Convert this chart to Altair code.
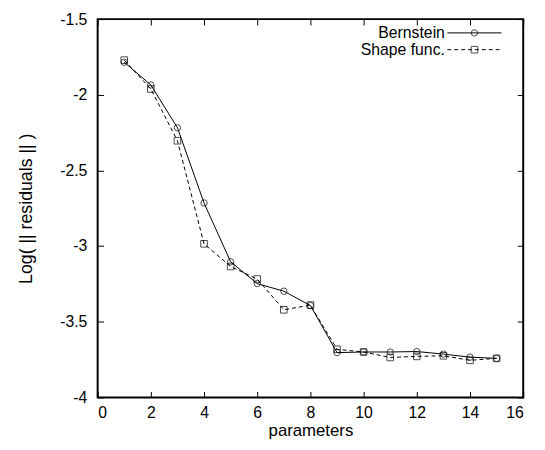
import altair as alt
import pandas as pd

params = list(range(1, 16))
bernstein = [-1.785, -1.935, -2.218, -2.715, -3.104, -3.248, -3.298, -3.393,
             -3.704, -3.700, -3.700, -3.697, -3.714, -3.734, -3.742]
shape_func = [-1.771, -1.962, -2.304, -2.985, -3.135, -3.218, -3.421, -3.390,
              -3.682, -3.700, -3.736, -3.729, -3.725, -3.755, -3.742]
x_ticks = [0, 2, 4, 6, 8, 10, 12, 14, 16]
y_ticks = [-4, -3.5, -3, -2.5, -2, -1.5]
series_names = ["Bernstein", "Shape func."]

df_b = pd.DataFrame({"p": params, "v": bernstein})
df_s = pd.DataFrame({"p": params, "v": shape_func})

FONT = "Liberation Sans"
W, H = 432, 384

xscale = alt.Scale(domain=[0, 16], nice=False, zero=False)
yscale = alt.Scale(domain=[-4, -1.5], nice=False, zero=False)

x_bottom = alt.Axis(orient="bottom", values=x_ticks, offset=-6, domain=False,
                    grid=False, tickSize=6, tickColor="black", tickWidth=1,
                    labelPadding=7, labelFont=FONT, labelFontSize=16,
                    labelColor="black", title="parameters", titleFont=FONT,
                    titleFontSize=17, titleFontWeight="normal", titleColor="black",
                    titleX=W / 2, titleY=39.5, titleBaseline="middle",
                    labelExpr="'' + datum.value")
y_left = alt.Axis(orient="left", values=y_ticks, offset=-6, domain=False,
                  grid=False, tickSize=6, tickColor="black", tickWidth=1,
                  labelPadding=11, labelFont=FONT, labelFontSize=16,
                  labelColor="black", title="Log( || residuals || )",
                  titleFont=FONT, titleFontSize=18, titleFontWeight="normal",
                  titleColor="black", titleX=-78, titleY=H / 2,
                  titleAngle=-90, titleBaseline="middle", titleAlign="center",
                  labelExpr="'' + datum.value")
x_top = alt.Axis(orient="top", values=x_ticks, offset=-6, domain=False,
                 grid=False, tickSize=6, tickColor="black", tickWidth=1,
                 labels=False, title=None)
y_right = alt.Axis(orient="right", values=y_ticks, offset=-6, domain=False,
                   grid=False, tickSize=6, tickColor="black", tickWidth=1,
                   labels=False, title=None)

line_b = alt.Chart(df_b).mark_line(color="black", strokeWidth=1).encode(
    x=alt.X("p:Q", scale=xscale, axis=x_bottom),
    y=alt.Y("v:Q", scale=yscale, axis=y_left),
)
pts_b = alt.Chart(df_b).mark_point(shape="circle", size=42, filled=False,
                                   color="black", strokeWidth=1).encode(
    x=alt.X("p:Q", scale=xscale, axis=None),
    y=alt.Y("v:Q", scale=yscale, axis=None),
)
line_s = alt.Chart(df_s).mark_line(color="black", strokeWidth=1,
                                   strokeDash=[4, 3]).encode(
    x=alt.X("p:Q", scale=xscale, axis=x_top),
    y=alt.Y("v:Q", scale=yscale, axis=y_right),
)
pts_s = alt.Chart(df_s).mark_point(shape="square", size=45, filled=False,
                                   color="black", strokeWidth=1).encode(
    x=alt.X("p:Q", scale=xscale, axis=None),
    y=alt.Y("v:Q", scale=yscale, axis=None),
)

# key (legend) in the top-right corner, gnuplot style
key_df = pd.DataFrame({"name": series_names})
row_y = [14, 31]
key_layers = []
for i, name in enumerate(series_names):
    d = key_df[key_df["name"] == name]
    key_layers.append(
        alt.Chart(d).mark_text(align="right", baseline="middle", font=FONT,
                               fontSize=16, color="black").encode(
            text="name:N", x=alt.value(352.5), y=alt.value(row_y[i]))
    )
    rule = alt.Chart(d).mark_rule(color="black", strokeWidth=1,
                                  **({"strokeDash": [4, 3]} if i == 1 else {})).encode(
        x=alt.value(355), x2=alt.value(410), y=alt.value(row_y[i]))
    key_layers.append(rule)
    key_layers.append(
        alt.Chart(d).mark_point(shape="circle" if i == 0 else "square",
                                size=42 if i == 0 else 45, filled=False,
                                color="black", strokeWidth=1).encode(
            x=alt.value(382.5), y=alt.value(row_y[i]))
    )

chart = alt.layer(line_b, line_s, pts_b, pts_s, *key_layers).resolve_axis(
    x="independent", y="independent"
).properties(
    width=W, height=H,
    autosize=alt.AutoSizeParams(type="none"),
    padding={"left": 91, "top": 8, "right": 14, "bottom": 42},
    background="white",
).configure_view(stroke="black", strokeWidth=2)

chart.save("out.html", embed_options={"renderer": "svg", "actions": False})
